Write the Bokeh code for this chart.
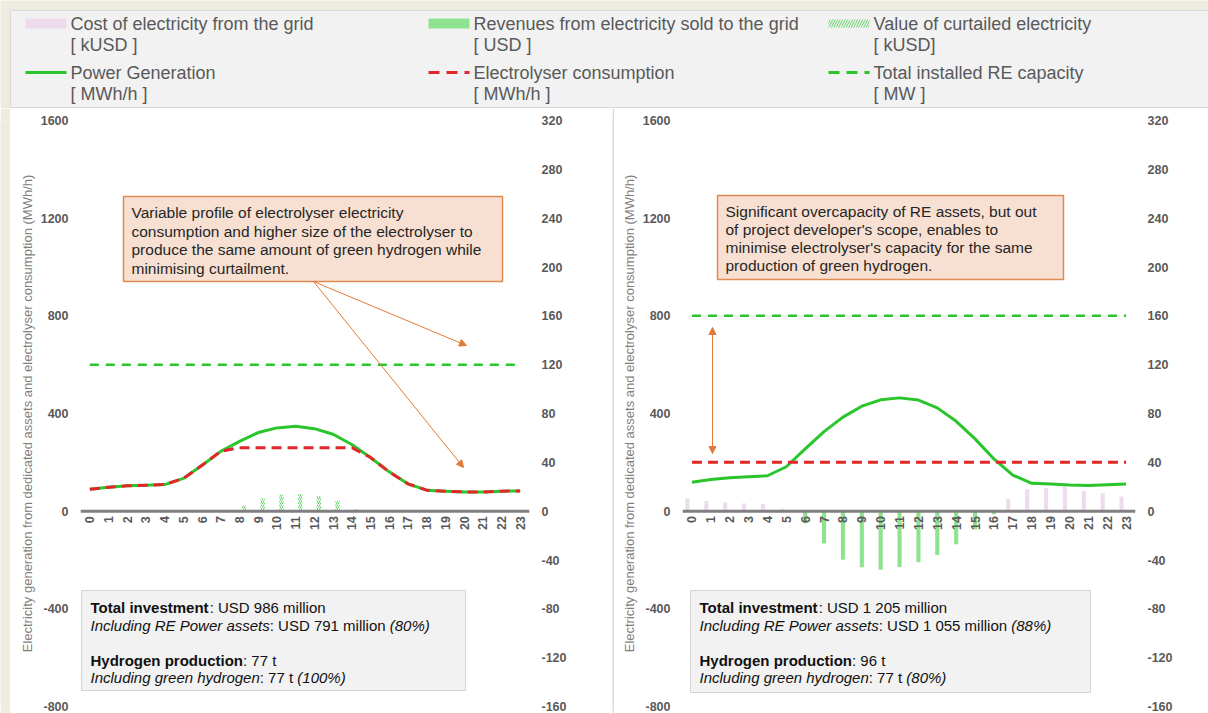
import math
from bokeh.plotting import figure
from bokeh.models import (ColumnDataSource, Range1d, LinearAxis, FixedTicker,
                          Label, BoxAnnotation, Arrow, NormalHead)
from bokeh.layouts import column, row
from bokeh.core.properties import value
from bokeh.transform import dodge
from bokeh.embed import file_html
from bokeh.resources import INLINE

FONT = "Liberation Sans"

# ---------------------------------------------------------------- data
hours = list(range(24))

# Scenario 1: variable electrolyser load, 600 MW of RE assets
gen_left = [90, 98, 104, 106, 109, 134, 188, 245, 286, 322, 341, 348,
            338, 315, 273, 220, 161, 112, 86, 82, 79, 78, 82, 83]
elec_left = [90, 98, 104, 106, 109, 134, 188, 245, 260, 260, 260, 260,
             260, 260, 260, 220, 161, 112, 86, 82, 79, 78, 82, 83]
re_capacity_left = 600
grid_cost_left = [0, 0, 0, 0, 0, 0, 0, 0, 0, 0, 0, 0,
                  0, 0, 0, 0, 0, 0, 0, 0, 0, 0, 0, 0]
grid_revenue_left = [0, 0, 0, 0, 0, 0, 0, 0, 0, 0, 0, 0,
                     0, 0, 0, 0, 0, 0, 0, 0, 0, 0, 0, 0]
curtailed_left = [0, 0, 0, 0, 0, 0, 0, 0, 4.5, 10.5, 13.5, 14,
                  12.5, 8.5, 1.5, 0, 0, 0, 0, 0, 0, 0, 0, 0]

# Scenario 2: flat electrolyser load, 800 MW of RE assets, grid exchanges
gen_right = [118, 130, 137, 141, 145, 182, 255, 326, 385, 430, 456, 464,
             455, 423, 368, 296, 214, 148, 114, 111, 107, 105, 108, 111]
elec_right = [200, 200, 200, 200, 200, 200, 200, 200, 200, 200, 200, 200,
              200, 200, 200, 200, 200, 200, 200, 200, 200, 200, 200, 200]
re_capacity_right = 800
grid_cost_right = [10.5, 8.3, 7.2, 6.3, 5.8, 2.2, 0, 0, 0, 0, 0, 0,
                   0, 0, 0, 0, 0, 9.9, 17.9, 19, 20, 16.5, 14.6, 12.1]
grid_revenue_right = [0, 0, 0, 0, 0, 0, -9.9, -26.5, -39.7, -46, -48, -45.8,
                      -41.9, -35.9, -27, -14.9, -2.5, 0, 0, 0, 0, 0, 0, 0]
curtailed_right = [0, 0, 0, 0, 0, 0, 0, 0, 0, 0, 0, 0,
                   0, 0, 0, 0, 0, 0, 0, 0, 0, 0, 0, 0]

mwh_ticks = [-800, -400, 0, 400, 800, 1200, 1600]
kusd_ticks = [-160, -120, -80, -40, 0, 40, 80, 120, 160, 200, 240, 280, 320]

legend_names = ["Cost of electricity from the grid",
                "Revenues from electricity sold to the grid",
                "Value of curtailed electricity",
                "Power Generation",
                "Electrolyser consumption",
                "Total installed RE capacity"]
legend_units = ["[ kUSD ]", "[ USD ]", "[ kUSD]", "[ MWh/h ]", "[ MWh/h ]", "[ MW ]"]

left_axis_title = "Electricity generation from dedicated assets and electrolyser consumption (MWh/h)"
right_axis_title = ["Value of electricity purchased from (+) and sold to (-) the grid", "(kUSD)"]

note_left = ["Variable profile of electrolyser electricity",
             "consumption and higher size of the electrolyser to",
             "produce the same amount of green hydrogen while",
             "minimising curtailment."]
note_right = ["Significant overcapacity of RE assets, but out",
              "of project developer's scope, enables to",
              "minimise electrolyser's capacity for the same",
              "production of green hydrogen."]

info_left = [
    [("Total investment", "bold"), (": USD 986 million", "normal")],
    [("Including RE Power assets", "italic"), (": USD 791 million ", "normal"), ("(80%)", "italic")],
    [],
    [("Hydrogen production", "bold"), (": 77 t", "normal")],
    [("Including green hydrogen", "italic"), (": 77 t ", "normal"), ("(100%)", "italic")],
]
info_right = [
    [("Total investment", "bold"), (": USD 1 205 million", "normal")],
    [("Including RE Power assets", "italic"), (": USD 1 055 million ", "normal"), ("(88%)", "italic")],
    [],
    [("Hydrogen production", "bold"), (": 96 t", "normal")],
    [("Including green hydrogen", "italic"), (": 77 t ", "normal"), ("(80%)", "italic")],
]

# ---------------------------------------------------------------- styles
BEIGE = "#eeece1"
PANEL_GREY = "#f2f2f2"
GREEN = "#2ac52a"
RED = "#e3262b"
PINK = "#eedcee"
REV_GREEN = "#8fe38f"
HATCH = "#5fd35f"
ORANGE = "#e07b39"
TICK_GREY = "#595959"
TITLE_GREY = "#7f7f7f"
TICK_SIZE = "12.5px"

# Arial-metric advance widths (1/1000 em) used to chain mixed-style text runs
_REG = {" ": 278, "(": 333, ")": 333, "%": 889, ":": 278, ".": 278, ",": 278,
        "'": 191, "-": 333, "+": 584, "/": 278}
_REG.update({d: 556 for d in "0123456789"})
_REG.update(dict(zip("abcdefghijklmnopqrstuvwxyz",
                     [556, 556, 500, 556, 556, 278, 556, 556, 222, 222, 500, 222, 833,
                      556, 556, 556, 556, 333, 500, 278, 556, 500, 722, 500, 500, 500])))
_REG.update(dict(zip("ABCDEFGHIJKLMNOPQRSTUVWXYZ",
                     [667, 667, 722, 722, 667, 611, 778, 722, 278, 500, 667, 556, 833,
                      722, 778, 667, 778, 722, 667, 611, 722, 667, 944, 667, 667, 611])))
_BOLD = {" ": 278, ":": 333, "T": 611, "H": 722}
_BOLD.update(dict(zip("abcdefghijklmnopqrstuvwxyz",
                      [556, 611, 556, 611, 556, 333, 611, 611, 278, 278, 556, 278, 889,
                       611, 611, 611, 611, 389, 556, 333, 611, 556, 778, 556, 556, 500])))


def run_width(s, size, style):
    table = _BOLD if style == "bold" else _REG
    return sum(table.get(c, 556) for c in s) * size / 1000.0


FIG_H = 605
FIG_TOP = 108          # page y of the chart row
B_TOP, B_BOTTOM = 12, 7
FRAME_TOP = FIG_TOP + B_TOP
FRAME_BOTTOM = FIG_TOP + FIG_H - B_BOTTOM


def filler(width, height, color):
    f = figure(width=width, height=height, toolbar_location=None, output_backend="svg",
               min_border=0, x_axis_location=None, y_axis_location=None,
               x_range=Range1d(0, 1), y_range=Range1d(0, 1))
    f.background_fill_color = color
    f.border_fill_color = color
    f.outline_line_color = None
    f.grid.visible = False
    return f


def style_value_axis(ax):
    ax.axis_line_color = None
    ax.major_tick_out = 0
    ax.major_tick_in = 0
    ax.minor_tick_out = 0
    ax.minor_tick_in = 0
    ax.major_label_standoff = 12
    ax.major_label_text_font = FONT
    ax.major_label_text_font_size = TICK_SIZE
    ax.major_label_text_font_style = "bold"
    ax.major_label_text_color = TICK_GREY


def make_panel(page_x, width, b_left, b_right, gen, elec, cap, cost, rev, curt,
               notes, note_box, note_text_x, note_ys, info, info_box, info_x,
               title_x, arrows):
    fx0 = page_x + b_left
    fw = width - b_left - b_right

    def dx(gx):
        return (gx - fx0) / fw * 24 - 0.5

    def dy(gy):
        return (FRAME_BOTTOM - gy) / (FRAME_BOTTOM - FRAME_TOP) * 2400 - 800

    p = figure(width=width, height=FIG_H, output_backend="svg", toolbar_location=None,
               x_range=Range1d(-0.5, 23.5), y_range=Range1d(-800, 1600),
               min_border_left=b_left, min_border_right=b_right,
               min_border_top=B_TOP, min_border_bottom=B_BOTTOM)
    p.extra_y_ranges = {"kusd": Range1d(-160, 320)}
    p.background_fill_color = "white"
    p.border_fill_color = "white"
    p.outline_line_color = None
    p.grid.visible = False

    src = ColumnDataSource(dict(hour=hours, gen=gen, elec=elec, cost=cost, rev=rev, curt=curt))

    # grid exchanges and curtailment (kUSD, right axis)
    p.vbar(x=dodge("hour", -0.24, range=p.x_range), top="cost", bottom=0, width=0.22,
           source=src, y_range_name="kusd", fill_color=PINK, line_color=None)
    p.vbar(x="hour", top=0, bottom="rev", width=0.22, source=src, y_range_name="kusd",
           fill_color=REV_GREEN, line_color=None)
    p.vbar(x=dodge("hour", 0.24, range=p.x_range), top="curt", bottom=0, width=0.22,
           source=src, y_range_name="kusd", fill_alpha=0, line_color=None,
           hatch_pattern="/", hatch_color=HATCH, hatch_scale=4, hatch_weight=1)

    # zero line carrying the hour axis
    p.segment(x0=p.x_range.start, x1=p.x_range.end, y0=0, y1=0,
              line_color="#808080", line_width=3)

    # power curves (MWh/h, left axis)
    p.segment(x0=hours[0], x1=hours[-1], y0=cap, y1=cap, line_color=GREEN,
              line_width=2.5, line_dash="9 7")
    p.line("hour", "gen", source=src, line_color=GREEN, line_width=3, line_join="round")
    p.line("hour", "elec", source=src, line_color=RED, line_width=3, line_dash="10 6",
           line_join="round")

    xa = p.xaxis[0]
    xa.ticker = FixedTicker(ticks=hours)
    xa.fixed_location = 0
    xa.major_label_orientation = math.pi / 2
    xa.major_tick_out = 0
    xa.major_tick_in = 0
    xa.minor_tick_out = 0
    xa.minor_tick_in = 0
    xa.axis_line_color = None
    xa.major_label_standoff = 5
    xa.major_label_text_font = FONT
    xa.major_label_text_font_size = TICK_SIZE
    xa.major_label_text_font_style = "bold"
    xa.major_label_text_color = TICK_GREY

    ya = p.yaxis[0]
    ya.ticker = FixedTicker(ticks=mwh_ticks)
    ya.major_label_overrides = {t: str(t) for t in mwh_ticks}
    style_value_axis(ya)
    ya.axis_label = left_axis_title
    ya.axis_label_text_font = FONT
    ya.axis_label_text_font_size = "13px"
    ya.axis_label_text_font_style = "normal"
    ya.axis_label_text_color = TITLE_GREY
    ya.axis_label_standoff = 3

    ra = LinearAxis(y_range_name="kusd", ticker=FixedTicker(ticks=kusd_ticks))
    ra.major_label_overrides = {t: str(t) for t in kusd_ticks}
    style_value_axis(ra)
    p.add_layout(ra, "right")

    # right axis title, two lines reading upwards
    for gx, txt in zip(title_x, right_axis_title):
        p.add_layout(Label(x=dx(gx), y=dy((FRAME_TOP + FRAME_BOTTOM) / 2), text=txt,
                           angle=math.pi / 2, text_align="center", text_baseline="middle",
                           text_font=FONT, text_font_size="13px", text_color=TITLE_GREY))

    # call-out box
    l, r, t, b = note_box
    p.add_layout(BoxAnnotation(left=dx(l), right=dx(r), top=dy(t), bottom=dy(b),
                               fill_color="#f7e0d2", fill_alpha=1,
                               line_color="#e08a4f", line_width=1.5, line_alpha=1))
    for gy, txt in zip(note_ys, notes):
        p.add_layout(Label(x=dx(note_text_x), y=dy(gy), text=txt, text_baseline="middle",
                           text_font=FONT, text_font_size="15.5px", text_color="#262626"))

    for (x0, y0, x1, y1, both) in arrows:
        head = dict(size=7, fill_color=ORANGE, line_color=ORANGE, line_width=1)
        p.add_layout(Arrow(x_start=dx(x0), y_start=dy(y0), x_end=dx(x1), y_end=dy(y1),
                           line_color=ORANGE, line_width=1,
                           start=NormalHead(**head) if both else None,
                           end=NormalHead(**head)))

    # key-figure box
    l, r, t, b = info_box
    p.add_layout(BoxAnnotation(left=dx(l), right=dx(r), top=dy(t), bottom=dy(b),
                               fill_color=PANEL_GREY, fill_alpha=1,
                               line_color="#d4d4d4", line_width=1, line_alpha=1))
    size = 15
    gy = t + 17
    for runs in info:
        off = 0.0
        for txt, style in runs:
            p.add_layout(Label(x=dx(info_x), y=dy(gy), x_offset=off, text=txt,
                               text_baseline="middle", text_font=FONT,
                               text_font_size=f"{size}px", text_font_style=style,
                               text_color="#111111"))
            off += run_width(txt, size, style)
        gy += 17.5
    return p


# ---------------------------------------------------------------- legend strip
lg = figure(width=1208, height=108, x_range=Range1d(0, 1208), y_range=Range1d(108, 0),
            min_border=0, toolbar_location=None, output_backend="svg",
            x_axis_location=None, y_axis_location=None)
lg.background_fill_color = BEIGE
lg.border_fill_color = BEIGE
lg.outline_line_color = None
lg.grid.visible = False
lg.quad(left=10, right=1208, top=10, bottom=107, fill_color=PANEL_GREY, line_color="#d9d9d9")

col_x = [70, 473, 873]
row_y = [23, 72]
tx, ty, tt = [], [], []
for i, (name, unit) in enumerate(zip(legend_names, legend_units)):
    x = col_x[i % 3]
    y = row_y[i // 3]
    tx += [x, x]
    ty += [y, y + 21]
    tt += [name, unit]
lg.text(x=tx, y=ty, text=tt, text_font=value(FONT), text_font_size="18px",
        text_color=TICK_GREY, text_baseline="middle", text_align="left")

lg.quad(left=col_x[0] - 45, right=col_x[0] - 4, top=18, bottom=28, fill_color=PINK, line_color=None)
lg.quad(left=col_x[1] - 45, right=col_x[1] - 4, top=18, bottom=28, fill_color=REV_GREEN, line_color=None)
lg.quad(left=col_x[2] - 45, right=col_x[2] - 4, top=19, bottom=27, fill_alpha=0, line_color=None,
        hatch_pattern="/", hatch_color=HATCH, hatch_scale=5, hatch_weight=1)
lg.line([col_x[0] - 45, col_x[0] - 4], [72, 72], line_color=GREEN, line_width=3)
lg.line([col_x[1] - 45, col_x[1] - 4], [72, 72], line_color=RED, line_width=3, line_dash="11 7")
lg.line([col_x[2] - 45, col_x[2] - 4], [72, 72], line_color=GREEN, line_width=3, line_dash="11 7")

# ---------------------------------------------------------------- chart panels
left = make_panel(
    page_x=10, width=602, b_left=70, b_right=83,
    gen=gen_left, elec=elec_left, cap=re_capacity_left,
    cost=grid_cost_left, rev=grid_revenue_left, curt=curtailed_left,
    notes=note_left, note_box=(123, 502, 196, 281), note_text_x=131,
    note_ys=[212, 231, 249, 268],
    info=info_left, info_box=(81, 465, 590, 690), info_x=90,
    title_x=[578, 592],
    arrows=[(313, 281, 466, 345, False), (313, 281, 463, 467, False)])

right = make_panel(
    page_x=614, width=594, b_left=68, b_right=73,
    gen=gen_right, elec=elec_right, cap=re_capacity_right,
    cost=grid_cost_right, rev=grid_revenue_right, curt=curtailed_right,
    notes=note_right, note_box=(717, 1063, 195, 279), note_text_x=725,
    note_ys=[211, 229, 247, 265],
    info=info_right, info_box=(690, 1090, 590, 692), info_x=699,
    title_x=[1183, 1197],
    arrows=[(712, 327, 712, 453, True)])

strip = filler(10, FIG_H, BEIGE)
sep = filler(2, FIG_H, "#d9d9d9")

layout = column(lg, row(strip, left, sep, right, spacing=0), spacing=0)

with open("out.html", "w") as fh:
    fh.write(file_html(layout, INLINE))
